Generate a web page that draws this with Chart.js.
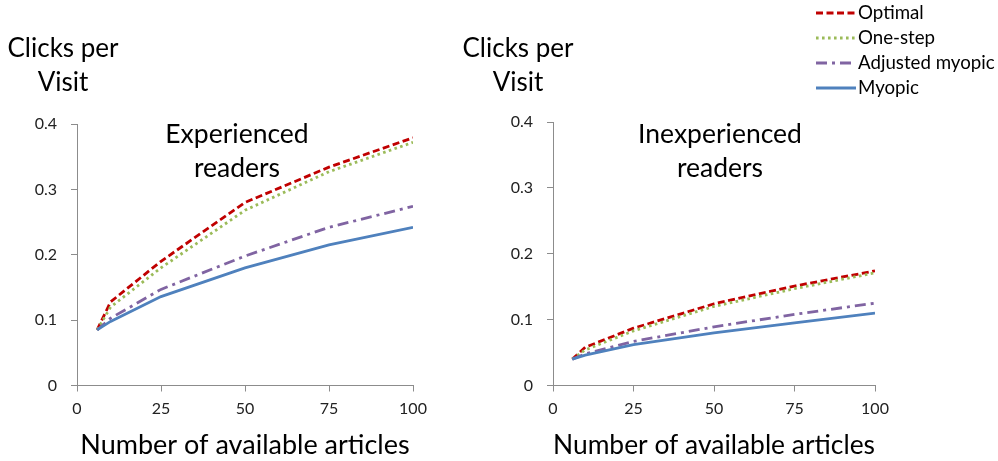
<!DOCTYPE html>
<html>
<head>
<meta charset="utf-8">
<script src="https://cdn.jsdelivr.net/npm/chart.js@4.4.1/dist/chart.umd.min.js"></script>
<style>
  html, body { margin: 0; padding: 0; background: #fff; }
  #wrap { position: relative; width: 998px; height: 461px; overflow: hidden; font-family: Lato, "Open Sans", sans-serif; }
  canvas { position: absolute; top: 0; }
  .txt { position: absolute; color: #000; font-size: 26px; line-height: 34px; text-align: center; white-space: nowrap; }
  .ann { font-size: 26.5px; }
  #legend { position: absolute; left: 812px; top: 0; font-size: 18.7px; color: #000; }
  #legend .row { position: absolute; left: 0; height: 20px; white-space: nowrap; }
  #legend svg { position: absolute; left: 4px; top: 5px; }
  #legend span { position: absolute; left: 46px; top: -2px; line-height: 22px; }
</style>
</head>
<body>
<div id="wrap">
  <canvas id="c1" width="460" height="461" style="left:0px"></canvas>
  <canvas id="c2" width="538" height="461" style="left:460px"></canvas>
  <div class="txt" style="left:-2px; top:30px; width:130px;">Clicks per<br>Visit</div>
  <div class="txt" style="left:453px; top:30px; width:130px;">Clicks per<br>Visit</div>
  <div class="txt ann" style="left:137px; top:116px; width:200px;">Experienced<br>readers</div>
  <div class="txt ann" style="left:620px; top:116px; width:200px;">Inexperienced<br>readers</div>
  <div id="legend"></div>
</div>
<script>
// ---- data ----
const articles = [6, 10, 25, 50, 75, 100];
const seriesNames = ["Optimal", "One-step", "Adjusted myopic", "Myopic"];

const optimalExperienced  = [0.085, 0.128, 0.190, 0.280, 0.334, 0.379];
const oneStepExperienced  = [0.085, 0.120, 0.180, 0.268, 0.327, 0.372];
const adjustedExperienced = [0.085, 0.103, 0.147, 0.198, 0.242, 0.274];
const myopicExperienced   = [0.085, 0.098, 0.136, 0.180, 0.215, 0.242];

const optimalInexperienced  = [0.040, 0.058, 0.087, 0.124, 0.151, 0.174];
const oneStepInexperienced  = [0.040, 0.054, 0.083, 0.120, 0.147, 0.171];
const adjustedInexperienced = [0.040, 0.048, 0.067, 0.089, 0.108, 0.125];
const myopicInexperienced   = [0.040, 0.046, 0.062, 0.080, 0.095, 0.110];

const xTickLabels = [0, 25, 50, 75, 100];
const yTickLabels = [0, 0.1, 0.2, 0.3, 0.4];

// ---- styles ----
const styles = [
  { color: "#C00000", dash: [7, 3.5] },
  { color: "#9BBB59", dash: [2.6, 3.4] },
  { color: "#8064A2", dash: [11, 5, 3, 5] },
  { color: "#4F81BD", dash: [] }
];
const axisColor = "#8c8c8c";
const tickFont = { family: "Lato", size: 16 };

function makeDatasets(arrs) {
  return arrs.map((vals, i) => ({
    label: seriesNames[i],
    data: articles.map((x, j) => ({ x: x, y: vals[j] })),
    borderColor: styles[i].color,
    backgroundColor: styles[i].color,
    borderDash: styles[i].dash,
    borderWidth: 2.8,
    borderCapStyle: "butt",
    pointRadius: 0,
    tension: 0,
    fill: false
  })).reverse();
}

function makeChart(id, arrs, yWidth, padRight, padTop) {
  return new Chart(document.getElementById(id), {
    type: "line",
    data: { datasets: makeDatasets(arrs) },
    options: {
      responsive: false,
      animation: false,
      devicePixelRatio: 1,
      layout: { padding: { top: padTop, right: padRight, left: 0, bottom: 0 } },
      plugins: { legend: { display: false }, tooltip: { enabled: false } },
      scales: {
        x: {
          type: "linear", min: 0, max: 100,
          afterBuildTicks: s => { s.ticks = xTickLabels.map(v => ({ value: v })); },
          afterFit: s => { s.height = 461 - 385.5; },
          ticks: { font: tickFont, color: "#222", padding: 8, callback: v => String(v) },
          grid: { drawOnChartArea: false, tickLength: 6, color: axisColor, lineWidth: 1 },
          border: { display: true, color: axisColor, width: 1 },
          title: { display: true, text: "Number of available articles", font: { family: "Lato", size: 27 }, color: "#000", padding: { top: 0, bottom: 0 } }
        },
        y: {
          type: "linear", min: 0, max: 0.4,
          afterBuildTicks: s => { s.ticks = yTickLabels.map(v => ({ value: v })); },
          afterFit: s => { s.width = yWidth; },
          ticks: { font: tickFont, color: "#222", padding: 14, callback: v => String(Math.round(v * 10) / 10) },
          grid: { drawOnChartArea: false, tickLength: 6, color: axisColor, lineWidth: 1 },
          border: { display: true, color: axisColor, width: 1 }
        }
      }
    }
  });
}

makeChart("c1", [optimalExperienced, oneStepExperienced, adjustedExperienced, myopicExperienced], 77, 47, 124);
makeChart("c2", [optimalInexperienced, oneStepInexperienced, adjustedInexperienced, myopicInexperienced], 93, 123, 122);

// ---- legend ----
const legend = document.getElementById("legend");
const rowTops = [3, 28, 53, 78];
seriesNames.forEach((name, i) => {
  const row = document.createElement("div");
  row.className = "row";
  row.style.top = rowTops[i] + "px";
  const dash = styles[i].dash.length ? styles[i].dash.join(" ") : "none";
  row.innerHTML = '<svg width="40" height="10"><line x1="0" y1="5" x2="40" y2="5" stroke="' + styles[i].color +
    '" stroke-width="2.8" stroke-dasharray="' + dash + '"/></svg><span>' + name + '</span>';
  legend.appendChild(row);
});
</script>
</body>
</html>
